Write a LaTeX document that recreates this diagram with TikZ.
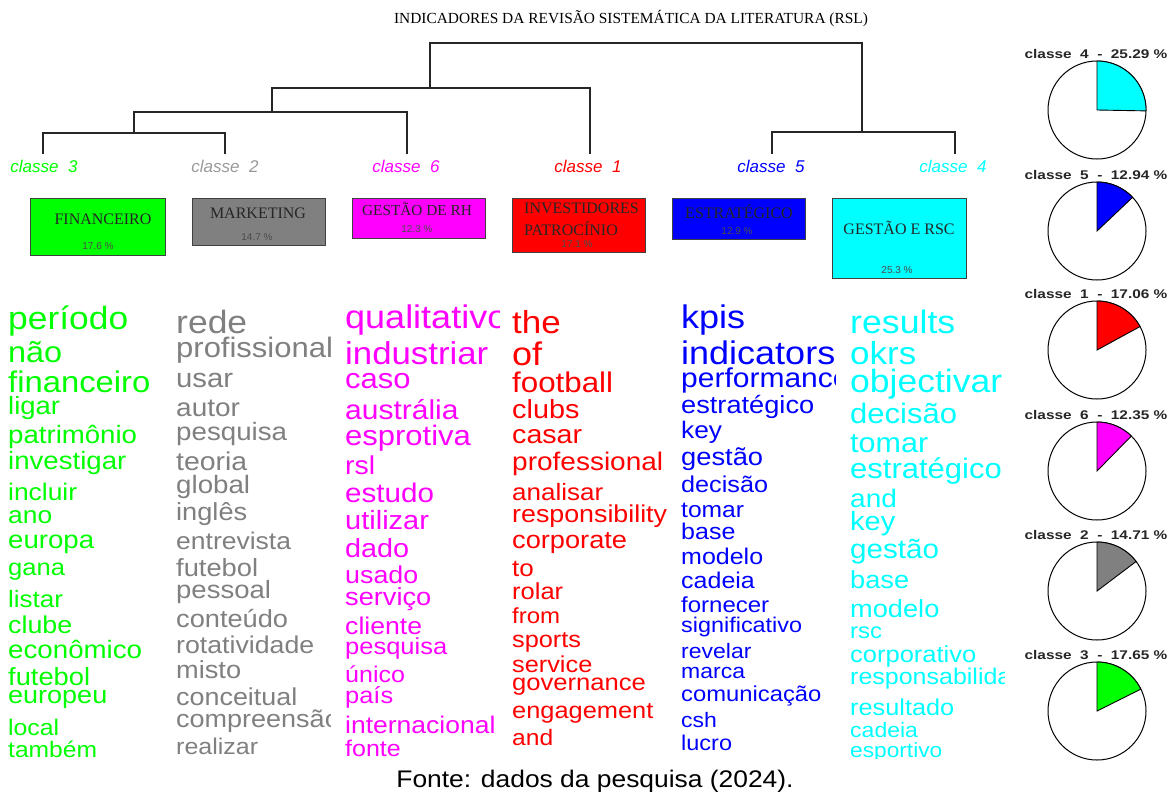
\documentclass[tikz,border=0pt]{standalone}
\usepackage{fontspec}
\setmainfont{Liberation Sans}
\newfontfamily\serifrm{Liberation Serif}
\usepackage{graphicx}

\definecolor{cgreen}{HTML}{00FF00}
\definecolor{cgray}{HTML}{808080}
\definecolor{cgraylab}{HTML}{9A9A9A}
\definecolor{cmagenta}{HTML}{FF00FF}
\definecolor{cred}{HTML}{FF0000}
\definecolor{cblue}{HTML}{0000FF}
\definecolor{ccyan}{HTML}{00FFFF}

\tikzset{
  word/.style={inner sep=0pt, anchor=base west},
  cls/.style={inner sep=0pt, anchor=base, font=\fontsize{17}{17}\selectfont\itshape},
  boxc/.style={draw=black!75, line width=1.3pt, anchor=north west, inner sep=0pt},
  boxlab/.style={inner sep=0pt, font=\serifrm\fontsize{16}{16}\selectfont, text=black!85},
  pct/.style={inner sep=0pt, font=\fontsize{10}{10}\selectfont, text=black!70},
  dendro/.style={line width=1.2pt, draw=black!85},
  pielab/.style={inner sep=0pt, anchor=base, font=\bfseries\fontsize{12.6}{12.6}\selectfont, text=black!85},
  pierim/.style={draw=black, line width=1pt},
}

% one column of words: #1 name prefix, #2 left x, #3 colour, #4 list baseline/size/word
\newcommand\wordcol[4]{%
  \begin{scope}
    \clip (#2-3,290) rectangle (#2+154,758);
    \foreach \by/\fs/\wt [count=\i] in {#4} {
      \pgfmathsetmacro\fz{\fs/1.1}
      \node[word, text=#3] (#1\i) at (#2,\by)
        {\fontsize{\fz}{\fz}\selectfont\scalebox{1.1}[1]{\wt}};
    }
  \end{scope}}

\begin{document}
\begin{tikzpicture}[x=1pt,y=-1pt]
\fill[white] (0,0) rectangle (1172,793);
\useasboundingbox (0,0) rectangle (1172,793);

% title
\node[inner sep=0pt, font=\serifrm\fontsize{15.4}{15.4}\selectfont] (title) at (631,19)
  {INDICADORES DA REVISÃO SISTEMÁTICA DA LITERATURA (RSL)};

% dendrogram leaves and joins
\coordinate (t3) at (43,154);
\coordinate (t2) at (225,154);
\coordinate (t6) at (407,154);
\coordinate (t1) at (590,154);
\coordinate (t5) at (772,154);
\coordinate (t4) at (955,154);
\coordinate (n32) at (134,133);
\coordinate (n326) at (272,112);
\coordinate (n3261) at (430,88);
\coordinate (n54) at (862,132);
\coordinate (root) at (646,43);

\draw[dendro] (t3) |- (n32) -| (t2);
\draw[dendro] (n32) |- (n326) -| (t6);
\draw[dendro] (n326) |- (n3261) -| (t1);
\draw[dendro] (t5) |- (n54) -| (t4);
\draw[dendro] (n3261) |- (root) -| (n54);

% class labels
\node[cls, text=cgreen] (k3) at (44,172) {classe~~3};
\node[cls, text=cgraylab] (k2) at (225,172) {classe~~2};
\node[cls, text=cmagenta] (k6) at (406,172) {classe~~6};
\node[cls, text=cred] (k1) at (588,172) {classe~~1};
\node[cls, text=cblue] (k5) at (771,172) {classe~~5};
\node[cls, text=ccyan] (k4) at (953,172) {classe~~4};

% class boxes
\node[boxc, fill=cgreen, minimum width=135, minimum height=57] (b3) at (30,198) {};
\node[boxc, fill=cgray, minimum width=133, minimum height=47] (b2) at (192,198) {};
\node[boxc, fill=cmagenta, minimum width=133, minimum height=40] (b6) at (352,198) {};
\node[boxc, fill=cred, minimum width=133, minimum height=54] (b1) at (512,198) {};
\node[boxc, fill=cblue, minimum width=133, minimum height=41] (b5) at (672,198) {};
\node[boxc, fill=ccyan, minimum width=134, minimum height=80] (b4) at (832,198) {};

\node[boxlab] (b3t) at (103,219) {FINANCEIRO};
\node[pct] (b3p) at (98,246) {17.6 \%};
\node[boxlab] (b2t) at (258,213) {MARKETING};
\node[pct] (b2p) at (257,237) {14.7 \%};
\node[boxlab, font=\serifrm\fontsize{15.3}{15.3}\selectfont] (b6t) at (417,209) {GESTÃO DE RH};
\node[pct] (b6p) at (417,229) {12.3 \%};
\node[boxlab, anchor=west] (b1t) at (524,208) {INVESTIDORES};
\node[boxlab, anchor=west] (b1u) at (524,229) {PATROCÍNIO};
\node[pct] (b1p) at (577,244) {17.1 \%};
\node[boxlab] (b5t) at (739,212) {ESTRATÉGICO};
\node[pct] (b5p) at (737,231) {12.9 \%};
\node[boxlab] (b4t) at (899,228) {GESTÃO E RSC};
\node[pct] (b4p) at (897,270) {25.3 \%};

% word columns
\wordcol{gw}{8}{cgreen}{329/35.4/período, 362/32.4/não, 392/32.8/financeiro, 414/27.5/ligar,
  443/27.6/patrimônio, 469/27.6/investigar, 500/26.4/incluir, 523/26.4/ano, 548/27.6/europa,
  575/25.6/gana, 607/26/listar, 633/26.8/clube, 658/27.7/econômico, 685/27.3/futebol,
  703/27/europeu, 735/24.8/local, 757/24.6/também}
\wordcol{yw}{176}{cgray}{333/35.5/rede, 357/31/profissional, 387/29.3/usar, 416/28/autor,
  440/27.7/pesquisa, 470/28.4/teoria, 493/27.7/global, 520/27.2/inglês, 549/26.5/entrevista,
  576/27.3/futebol, 598/27.5/pessoal, 627/27.2/conteúdo, 653/26.7/rotatividade, 678/27.2/misto,
  705/26.9/conceitual, 727/27/compreensão, 754/25/realizar}
\wordcol{mw}{345}{cmagenta}{328/36/qualitativo, 364/34.8/industriar, 388/31/caso, 419/30/austrália,
  445/31/esprotiva, 474/28.4/rsl, 502/29.6/estudo, 529/29/utilizar, 557/28.8/dado, 583/26.8/usado,
  605/27.2/serviço, 634/26.6/cliente, 654/25.5/pesquisa, 682/25/único, 703/25.4/país,
  733/26.5/internacional, 756/25/fonte}
\wordcol{rw}{512}{cred}{333/35/the, 365/36/of, 392/31.3/football, 418/28.8/clubs, 443/28.6/casar,
  470/28/professional, 500/26/analisar, 522/26.8/responsibility, 548/27.2/corporate, 576/26/to,
  599/25.5/rolar, 623/24/from, 647/25.3/sports, 672/25.3/service, 690/25.6/governance,
  718/25.4/engagement, 745/24.6/and}
\wordcol{bw}{681}{cblue}{328/36/kpis, 364/36/indicators, 387/30/performance, 413/27.2/estratégico,
  438/26.3/key, 465/27.3/gestão, 492/25.2/decisão, 517/24.6/tomar, 539/25/base, 564/25/modelo,
  588/25/cadeia, 612/24/fornecer, 632/23.4/significativo, 658/23/revelar, 678/23/marca,
  701/23.8/comunicação, 727/23/csh, 750/23.5/lucro}
\wordcol{cw}{850}{ccyan}{333/35.7/results, 364/35/okrs, 392/35.5/objectivar, 423/31/decisão,
  452/30.5/tomar, 478/31/estratégico, 507/28/and, 530/29/key, 558/29.6/gestão, 588/27.2/base,
  617/27.2/modelo, 638/24/rsc, 662/25.5/corporativo, 684/25/responsabilidade, 715/25.3/resultado,
  737/23/cadeia, 757/22.7/esportivo}

% class share pies
\foreach \cy/\pct/\col/\cn [count=\i] in {110/25.29/ccyan/4, 231/12.94/cblue/5, 350/17.06/cred/1,
    471/12.35/cmagenta/6, 591/14.71/cgray/2, 711/17.65/cgreen/3} {
  \node[pielab] (pl\i) at (1096,\cy-52) {\scalebox{1.22}[1]{classe~~\cn~~-~~\pct~\%}};
  \draw[pierim, fill=white] (1097,\cy) circle[radius=49];
  \filldraw[fill=\col, draw=black, line width=0.9pt] (1097,\cy) -- ++(-90:49)
    arc[start angle=-90, end angle={-90+3.6*\pct}, radius=49] -- cycle;
}

% source line
\node[anchor=base, inner sep=0pt] (fonte) at (595,787)
  {\fontsize{24}{24}\selectfont\scalebox{1.1}[1]{Fonte: dados da pesquisa (2024).}};
\end{tikzpicture}
\end{document}
